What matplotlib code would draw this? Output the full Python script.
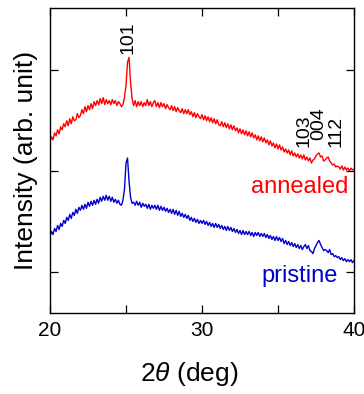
import numpy as np
import matplotlib
matplotlib.use("Agg")
import matplotlib.pyplot as plt
from matplotlib.ticker import MultipleLocator

plt.rcParams['font.family'] = ['Liberation Sans', 'DejaVu Sans']
plt.rcParams['mathtext.fontset'] = 'custom'
plt.rcParams['mathtext.it'] = 'Liberation Sans:italic'
plt.rcParams['mathtext.rm'] = 'Liberation Sans'

# 2theta grid (deg), 0.1 deg steps
two_theta = np.linspace(20, 40, 201)

# annealed trace (offset)
annealed = [
    2.29, 2.34, 2.31, 2.38, 2.35, 2.41, 2.37, 2.44, 2.41, 2.47,
    2.44, 2.50, 2.45, 2.52, 2.47, 2.54, 2.50, 2.51, 2.57, 2.53,
    2.55, 2.61, 2.57, 2.64, 2.59, 2.65, 2.61, 2.67, 2.62, 2.69,
    2.65, 2.70, 2.66, 2.72, 2.67, 2.73, 2.66, 2.71, 2.67, 2.70,
    2.66, 2.71, 2.67, 2.70, 2.65, 2.69, 2.67, 2.64, 2.66, 2.73,
    2.85, 3.08, 3.13, 2.88, 2.72, 2.65, 2.70, 2.64, 2.69, 2.65,
    2.69, 2.64, 2.68, 2.65, 2.71, 2.65, 2.69, 2.64, 2.68, 2.70,
    2.64, 2.68, 2.63, 2.68, 2.64, 2.67, 2.62, 2.66, 2.63, 2.61,
    2.65, 2.60, 2.64, 2.59, 2.63, 2.60, 2.58, 2.62, 2.57, 2.61,
    2.57, 2.61, 2.56, 2.59, 2.54, 2.58, 2.53, 2.57, 2.54, 2.52,
    2.56, 2.51, 2.55, 2.50, 2.54, 2.49, 2.53, 2.48, 2.52, 2.47,
    2.51, 2.46, 2.45, 2.49, 2.44, 2.48, 2.43, 2.47, 2.42, 2.46,
    2.41, 2.45, 2.40, 2.43, 2.38, 2.42, 2.37, 2.41, 2.36, 2.40,
    2.35, 2.39, 2.34, 2.38, 2.33, 2.36, 2.31, 2.35, 2.30, 2.34,
    2.29, 2.33, 2.28, 2.31, 2.26, 2.30, 2.25, 2.28, 2.23, 2.27,
    2.22, 2.26, 2.21, 2.24, 2.19, 2.22, 2.18, 2.21, 2.16, 2.20,
    2.15, 2.18, 2.14, 2.17, 2.13, 2.16, 2.12, 2.16, 2.11, 2.14,
    2.10, 2.13, 2.08, 2.11, 2.12, 2.15, 2.17, 2.18, 2.14, 2.15,
    2.10, 2.11, 2.13, 2.14, 2.10, 2.08, 2.06, 2.07, 2.04, 2.05,
    2.04, 2.02, 2.05, 2.01, 2.04, 2.01, 2.03, 2.00, 2.03, 2.01,
    2.02,
]

# pristine trace
pristine = [
    1.35, 1.40, 1.37, 1.43, 1.40, 1.46, 1.42, 1.48, 1.45, 1.51,
    1.48, 1.54, 1.51, 1.57, 1.53, 1.59, 1.56, 1.62, 1.58, 1.64,
    1.61, 1.66, 1.62, 1.67, 1.63, 1.69, 1.65, 1.70, 1.66, 1.71,
    1.67, 1.72, 1.68, 1.74, 1.70, 1.75, 1.71, 1.76, 1.71, 1.75,
    1.70, 1.74, 1.69, 1.72, 1.68, 1.71, 1.67, 1.66, 1.71, 1.82,
    2.08, 2.13, 1.90, 1.74, 1.68, 1.69, 1.66, 1.70, 1.66, 1.69,
    1.64, 1.68, 1.65, 1.67, 1.63, 1.67, 1.62, 1.66, 1.63, 1.66,
    1.62, 1.66, 1.61, 1.65, 1.61, 1.64, 1.60, 1.63, 1.59, 1.62,
    1.58, 1.62, 1.57, 1.61, 1.56, 1.60, 1.55, 1.58, 1.54, 1.57,
    1.53, 1.56, 1.51, 1.54, 1.50, 1.53, 1.49, 1.52, 1.48, 1.51,
    1.48, 1.51, 1.47, 1.50, 1.46, 1.49, 1.45, 1.48, 1.44, 1.48,
    1.44, 1.47, 1.43, 1.46, 1.42, 1.45, 1.41, 1.45, 1.41, 1.44,
    1.40, 1.43, 1.39, 1.42, 1.38, 1.41, 1.37, 1.41, 1.37, 1.40,
    1.37, 1.40, 1.36, 1.39, 1.35, 1.39, 1.36, 1.39, 1.35, 1.38,
    1.35, 1.38, 1.34, 1.37, 1.33, 1.36, 1.32, 1.35, 1.31, 1.35,
    1.31, 1.34, 1.30, 1.33, 1.28, 1.31, 1.27, 1.30, 1.26, 1.29,
    1.25, 1.28, 1.24, 1.27, 1.23, 1.26, 1.22, 1.25, 1.27, 1.23,
    1.26, 1.21, 1.20, 1.18, 1.23, 1.26, 1.29, 1.31, 1.27, 1.24,
    1.21, 1.22, 1.21, 1.19, 1.22, 1.17, 1.18, 1.15, 1.16, 1.14,
    1.15, 1.12, 1.14, 1.11, 1.13, 1.10, 1.12, 1.10, 1.12, 1.09,
    1.11,
]

# peak labels: (text, x, y of label bottom)
peak_labels = ['101', '103', '004', '112']
peak_x = [25.1, 36.7, 37.7, 38.8]
peak_y = [3.16, 2.24, 2.31, 2.24]


def main():
    fig = plt.figure(figsize=(3.64, 3.94), dpi=100)
    ax = fig.add_axes([50 / 364, 81 / 394, 304 / 364, 305 / 394])

    ax.plot(two_theta, annealed, color='#ff0000', lw=1.0)
    ax.plot(two_theta, pristine, color='#0000cc', lw=1.0)

    for lab, px, py in zip(peak_labels, peak_x, peak_y):
        ax.text(px, py, lab, rotation=90, ha='center', va='bottom', fontsize=14)

    ax.text(39.6, 1.78, 'annealed', color='#ff0000', ha='right', va='baseline', fontsize=17)
    ax.text(38.95, 0.897, 'pristine', color='#0000cc', ha='right', va='baseline', fontsize=17)

    ax.set_xlim(20, 40)
    ax.set_ylim(0.59, 3.62)
    ax.set_xticks([20, 30, 40])
    ax.xaxis.set_minor_locator(MultipleLocator(5))
    ax.set_yticks([1, 2, 3])
    ax.set_yticklabels([])

    ax.tick_params(which='both', direction='in', length=6, width=0.9,
                   top=True, right=True, labelsize=15, pad=6)
    for s in ax.spines.values():
        s.set_linewidth(1.0)

    ax.set_xlabel(r'2$\it{\theta}$ (deg)', fontsize=19)
    ax.xaxis.set_label_coords(0.457, -0.155)
    ax.set_ylabel('Intensity (arb. unit)', fontsize=19, labelpad=3)

    fig.savefig('out.png', dpi=100)


if __name__ == "__main__":
    main()
